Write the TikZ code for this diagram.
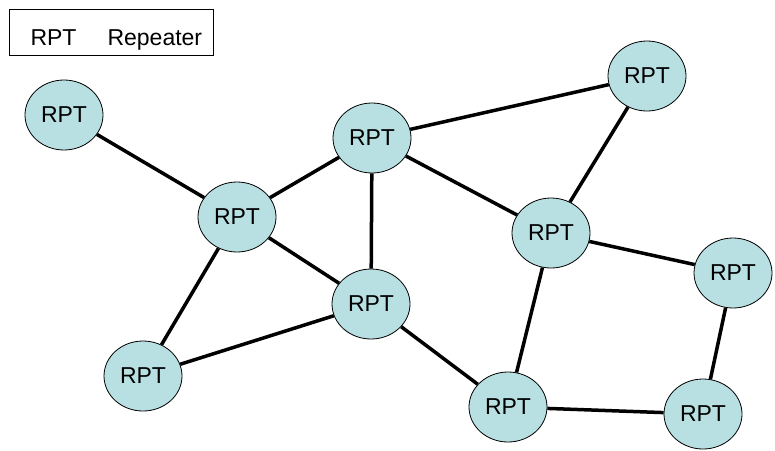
\documentclass[tikz,border=0pt]{standalone}
\usepackage{fontspec}
\setmainfont{Liberation Sans}
\usetikzlibrary{shapes.geometric}
\definecolor{rptfill}{RGB}{184,224,226}
\tikzset{
  rpt/.style={ellipse, draw=black, line width=0.8pt, fill=rptfill,
    minimum width=78pt, minimum height=70pt, inner sep=0pt,
    font=\fontsize{23}{27}\selectfont},
  link/.style={line width=3.5pt, black},
  legendbox/.style={draw=black, line width=1pt, minimum width=204pt,
    minimum height=46pt, inner sep=0pt}
}
\begin{document}
\begin{tikzpicture}[x=1pt,y=-1pt]
\useasboundingbox (0,0) rectangle (775,450);
% legend
\node[legendbox] (legend) at (111,32.5) {};
\node[font=\fontsize{23}{27}\selectfont, anchor=base west] (lkey) at (27,45) {RPT};
\node[font=\fontsize{23}{27}\selectfont, anchor=base west] (lval) at (104,45) {Repeater};
% repeaters
\node[rpt] (a) at (64,115) {RPT};
\node[rpt] (b) at (237,217) {RPT};
\node[rpt] (c) at (372,138) {RPT};
\node[rpt] (d) at (371,304) {RPT};
\node[rpt] (e) at (143,376) {RPT};
\node[rpt] (f) at (647,76) {RPT};
\node[rpt] (g) at (551,233) {RPT};
\node[rpt] (h) at (733,273) {RPT};
\node[rpt] (i) at (508,407) {RPT};
\node[rpt] (j) at (703,414) {RPT};
% links
\draw[link] (a) -- (b);
\draw[link] (b) -- (c);
\draw[link] (b) -- (d);
\draw[link] (b) -- (e);
\draw[link] (c) -- (d);
\draw[link] (c) -- (f);
\draw[link] (c) -- (g);
\draw[link] (d) -- (e);
\draw[link] (d) -- (i);
\draw[link] (g) -- (f);
\draw[link] (g) -- (h);
\draw[link] (g) -- (i);
\draw[link] (h) -- (j);
\draw[link] (i) -- (j);
\end{tikzpicture}
\end{document}
